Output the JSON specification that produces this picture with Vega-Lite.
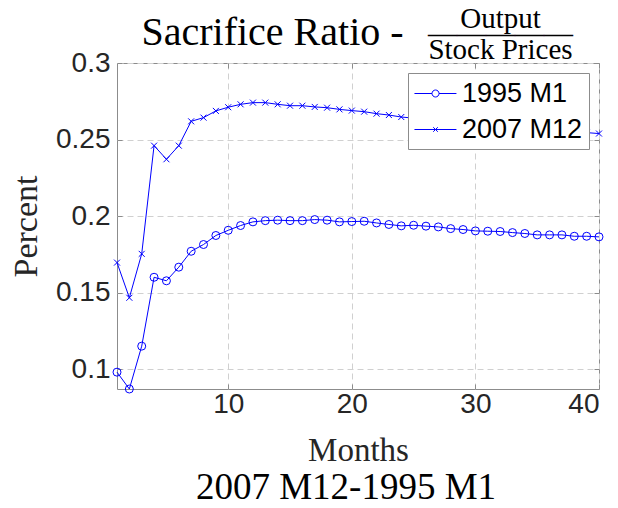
{
  "$schema": "https://vega.github.io/schema/vega-lite/v6.json",
  "width": 482,
  "height": 326,
  "autosize": {"type": "none"},
  "padding": {"left": 117, "top": 63, "right": 19, "bottom": 119},
  "background": "white",
  "title": {
    "text": "2007 M12-1995 M1",
    "orient": "bottom",
    "anchor": "middle",
    "font": "Liberation Serif",
    "fontSize": 37,
    "fontWeight": "normal",
    "color": "black",
    "offset": 3,
    "dx": -12
  },
  "config": {
    "view": {"stroke": "#8c8c8c", "strokeWidth": 1},
    "axis": {
      "labelFont": "Liberation Sans",
      "labelColor": "#262626",
      "titleFont": "Liberation Serif",
      "titleFontWeight": "normal",
      "titleColor": "#262626",
      "domain": false,
      "tickColor": "#8c8c8c",
      "gridColor": "#d0d0d0",
      "gridDash": [6, 4],
      "gridWidth": 1
    }
  },
  "data": {
    "values": [
      {"m": 1, "series": "1995 M1", "v": 0.098},
      {"m": 2, "series": "1995 M1", "v": 0.087},
      {"m": 3, "series": "1995 M1", "v": 0.115},
      {"m": 4, "series": "1995 M1", "v": 0.160},
      {"m": 5, "series": "1995 M1", "v": 0.1577},
      {"m": 6, "series": "1995 M1", "v": 0.1666},
      {"m": 7, "series": "1995 M1", "v": 0.177},
      {"m": 8, "series": "1995 M1", "v": 0.1814},
      {"m": 9, "series": "1995 M1", "v": 0.1873},
      {"m": 10, "series": "1995 M1", "v": 0.1907},
      {"m": 11, "series": "1995 M1", "v": 0.1938},
      {"m": 12, "series": "1995 M1", "v": 0.1962},
      {"m": 13, "series": "1995 M1", "v": 0.197},
      {"m": 14, "series": "1995 M1", "v": 0.1973},
      {"m": 15, "series": "1995 M1", "v": 0.197},
      {"m": 16, "series": "1995 M1", "v": 0.197},
      {"m": 17, "series": "1995 M1", "v": 0.1977},
      {"m": 18, "series": "1995 M1", "v": 0.1973},
      {"m": 19, "series": "1995 M1", "v": 0.1962},
      {"m": 20, "series": "1995 M1", "v": 0.1964},
      {"m": 21, "series": "1995 M1", "v": 0.1966},
      {"m": 22, "series": "1995 M1", "v": 0.1955},
      {"m": 23, "series": "1995 M1", "v": 0.1945},
      {"m": 24, "series": "1995 M1", "v": 0.1936},
      {"m": 25, "series": "1995 M1", "v": 0.194},
      {"m": 26, "series": "1995 M1", "v": 0.1934},
      {"m": 27, "series": "1995 M1", "v": 0.1929},
      {"m": 28, "series": "1995 M1", "v": 0.1918},
      {"m": 29, "series": "1995 M1", "v": 0.1912},
      {"m": 30, "series": "1995 M1", "v": 0.1903},
      {"m": 31, "series": "1995 M1", "v": 0.1901},
      {"m": 32, "series": "1995 M1", "v": 0.1899},
      {"m": 33, "series": "1995 M1", "v": 0.1892},
      {"m": 34, "series": "1995 M1", "v": 0.1886},
      {"m": 35, "series": "1995 M1", "v": 0.1877},
      {"m": 36, "series": "1995 M1", "v": 0.1877},
      {"m": 37, "series": "1995 M1", "v": 0.1877},
      {"m": 38, "series": "1995 M1", "v": 0.1868},
      {"m": 39, "series": "1995 M1", "v": 0.1868},
      {"m": 40, "series": "1995 M1", "v": 0.1864},
      {"m": 1, "series": "2007 M12", "v": 0.1696},
      {"m": 2, "series": "2007 M12", "v": 0.1466},
      {"m": 3, "series": "2007 M12", "v": 0.1753},
      {"m": 4, "series": "2007 M12", "v": 0.246},
      {"m": 5, "series": "2007 M12", "v": 0.2371},
      {"m": 6, "series": "2007 M12", "v": 0.246},
      {"m": 7, "series": "2007 M12", "v": 0.2619},
      {"m": 8, "series": "2007 M12", "v": 0.2643},
      {"m": 9, "series": "2007 M12", "v": 0.2687},
      {"m": 10, "series": "2007 M12", "v": 0.2711},
      {"m": 11, "series": "2007 M12", "v": 0.273},
      {"m": 12, "series": "2007 M12", "v": 0.2741},
      {"m": 13, "series": "2007 M12", "v": 0.2741},
      {"m": 14, "series": "2007 M12", "v": 0.273},
      {"m": 15, "series": "2007 M12", "v": 0.2721},
      {"m": 16, "series": "2007 M12", "v": 0.2721},
      {"m": 17, "series": "2007 M12", "v": 0.2713},
      {"m": 18, "series": "2007 M12", "v": 0.2708},
      {"m": 19, "series": "2007 M12", "v": 0.2697},
      {"m": 20, "series": "2007 M12", "v": 0.2689},
      {"m": 21, "series": "2007 M12", "v": 0.2682},
      {"m": 22, "series": "2007 M12", "v": 0.2669},
      {"m": 23, "series": "2007 M12", "v": 0.266},
      {"m": 24, "series": "2007 M12", "v": 0.2647},
      {"m": 25, "series": "2007 M12", "v": 0.2640},
      {"m": 26, "series": "2007 M12", "v": 0.2632},
      {"m": 27, "series": "2007 M12", "v": 0.2625},
      {"m": 28, "series": "2007 M12", "v": 0.2617},
      {"m": 29, "series": "2007 M12", "v": 0.2610},
      {"m": 30, "series": "2007 M12", "v": 0.2603},
      {"m": 31, "series": "2007 M12", "v": 0.2596},
      {"m": 32, "series": "2007 M12", "v": 0.2590},
      {"m": 33, "series": "2007 M12", "v": 0.2583},
      {"m": 34, "series": "2007 M12", "v": 0.2577},
      {"m": 35, "series": "2007 M12", "v": 0.2570},
      {"m": 36, "series": "2007 M12", "v": 0.2563},
      {"m": 37, "series": "2007 M12", "v": 0.2557},
      {"m": 38, "series": "2007 M12", "v": 0.2551},
      {"m": 39, "series": "2007 M12", "v": 0.2545},
      {"m": 40, "series": "2007 M12", "v": 0.2539}
    ]
  },
  "layer": [
    {
      "mark": {"type": "line", "color": "#0000ff", "strokeWidth": 1, "clip": false},
      "encoding": {
        "x": {
          "field": "m", "type": "quantitative",
          "scale": {"domain": [1, 40], "nice": false, "zero": false},
          "axis": {
            "orient": "bottom", "values": [10, 20, 30, 40],
            "labelFontSize": 28, "labelPadding": 6, "tickSize": -5,
            "grid": true, "title": "Months", "titleFontSize": 33, "titlePadding": 16
          }
        },
        "y": {
          "field": "v", "type": "quantitative",
          "scale": {"domain": [0.087, 0.3], "nice": false, "zero": false},
          "axis": {
            "orient": "left", "values": [0.1, 0.15, 0.2, 0.25, 0.3], "format": "~g",
            "labelFontSize": 28, "labelPadding": 12, "tickSize": -5,
            "grid": true, "title": "Percent", "titleFontSize": 34, "titlePadding": 12
          }
        },
        "detail": {"field": "series"}
      }
    },
    {
      "mark": {"type": "point", "color": "#0000ff", "filled": false, "size": 64, "strokeWidth": 1, "opacity": 1, "clip": false},
      "encoding": {
        "x": {
          "field": "m", "type": "quantitative",
          "axis": {
            "orient": "top", "values": [10, 20, 30, 40], "labels": false,
            "tickSize": -5, "grid": false,
            "title": "Sacrifice Ratio -", "titleFont": "Liberation Serif", "titleFontSize": 40,
            "titleColor": "black", "titleX": 155, "titleY": -19,
            "titleAlign": "center", "titleBaseline": "alphabetic", "titleAngle": 0
          }
        },
        "y": {
          "field": "v", "type": "quantitative",
          "axis": {
            "orient": "right", "values": [0.1, 0.15, 0.2, 0.25, 0.3], "labels": false,
            "tickSize": -5, "grid": false,
            "title": ["Output", "—————", "Stock Prices"], "titleFont": "Liberation Serif",
            "titleFontSize": 29, "titleColor": "black", "titleLineHeight": 15.5,
            "titleX": -99, "titleY": -36, "titleAngle": 0,
            "titleAlign": "center", "titleBaseline": "alphabetic"
          }
        },
        "shape": {
          "field": "series", "type": "nominal",
          "scale": {"domain": ["1995 M1", "2007 M12"], "range": ["circle", "M-0.75,-0.75L0.75,0.75M-0.75,0.75L0.75,-0.75"]},
          "legend": null
        }
      }
    },
    {
      "mark": {"type": "point", "color": "#0000ff", "filled": false, "size": 729, "strokeWidth": 1, "opacity": 0, "clip": false},
      "encoding": {
        "x": {"field": "m", "type": "quantitative", "axis": null},
        "y": {"field": "v", "type": "quantitative", "axis": null},
        "shape": {
          "field": "series", "type": "nominal",
          "scale": {"domain": ["1995 M1", "2007 M12"], "range": ["M-1.04,0H0.26M0.78,0H2.07M0.78,0A0.26,0.26,0,1,1,0.26,0A0.26,0.26,0,1,1,0.78,0", "M-1.04,0H2.07M0.35,-0.17L0.69,0.17M0.35,0.17L0.69,-0.17"]},
          "legend": {
            "title": null,
            "orient": "top-right",
            "offset": 10,
            "fillColor": "white",
            "strokeColor": "#8c8c8c",
            "padding": 6.5,
            "rowPadding": 9,
            "symbolSize": 729,
            "symbolStrokeColor": "#0000ff",
            "symbolFillColor": "transparent",
            "symbolStrokeWidth": 1,
            "symbolOpacity": 1,
            "labelFont": "Liberation Sans",
            "labelFontSize": 27,
            "labelColor": "black",
            "labelOffset": 19.5,
            "labelLimit": 300
          }
        }
      }
    }
  ],
  "resolve": {"axis": {"x": "independent", "y": "independent"}, "scale": {"shape": "independent"}}
}
